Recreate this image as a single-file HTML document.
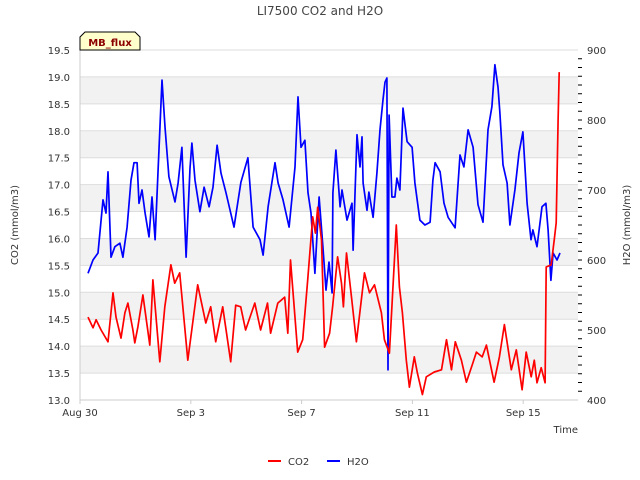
<!DOCTYPE html>
<html><head><meta charset="utf-8"><style>
body{margin:0;background:#fff;}
svg{display:block;font-family:"DejaVu Sans","Liberation Sans",sans-serif;}
</style></head><body>
<svg width="640" height="480" viewBox="0 0 640 480">
<text x="320" y="15" text-anchor="middle" font-size="12" fill="#444">LI7500 CO2 and H2O</text>
<g id="grid"></g>
<g id="axes"></g>
<g id="series"></g>
<text transform="translate(18,225) rotate(-90)" text-anchor="middle" font-size="10" fill="#333">CO2 (mmol/m3)</text>
<text transform="translate(630,225) rotate(-90)" text-anchor="middle" font-size="10" fill="#333">H2O (mmol/m3)</text>
<text x="578" y="433" text-anchor="end" font-size="10" fill="#333">Time</text>
<g>
<path d="M80,50 L80,37 L85,32 L135,32 L140,37 L140,50 Z" fill="#ffffcc" stroke="#000" stroke-width="1"/>
<text x="110" y="46" text-anchor="middle" font-size="10" font-weight="bold" fill="#8b0000">MB_flux</text>
</g>
<g>
<g><line x1="268" y1="461" x2="281" y2="461" stroke="#f00" stroke-width="2"/><text x="288" y="465" font-size="10" fill="#333">CO2</text></g>
<g><line x1="327" y1="461" x2="340" y2="461" stroke="#00f" stroke-width="2"/><text x="347" y="465" font-size="10" fill="#333">H2O</text></g>
</g>
</svg>
<script>
const xTickLabels=["Aug 30","Sep 3","Sep 7","Sep 11","Sep 15"];
const xTickDays=[0,4,8,12,16];
const leftTicks=[13.0,13.5,14.0,14.5,15.0,15.5,16.0,16.5,17.0,17.5,18.0,18.5,19.0,19.5];
const rightTicks=[400,500,600,700,800,900];
const co2Days=[0.29,0.47,0.58,0.76,1.01,1.19,1.30,1.48,1.62,1.73,1.91,1.98,2.09,2.27,2.52,2.63,2.88,3.06,3.28,3.42,3.60,3.89,4.25,4.54,4.72,4.90,5.15,5.44,5.62,5.80,5.98,6.31,6.52,6.77,6.88,7.14,7.39,7.50,7.60,7.86,8.04,8.22,8.40,8.50,8.58,8.72,8.83,9.01,9.12,9.30,9.44,9.51,9.62,9.80,9.98,10.27,10.45,10.63,10.88,10.99,11.17,11.42,11.53,11.64,11.78,11.89,12.07,12.18,12.36,12.50,12.79,13.05,13.23,13.41,13.55,13.77,13.95,14.16,14.31,14.52,14.67,14.95,15.14,15.32,15.57,15.75,15.96,16.11,16.29,16.40,16.50,16.65,16.79,16.83,17.01,17.12,17.19,17.26,17.30];
const co2Values=[14.54,14.34,14.49,14.30,14.08,14.99,14.54,14.15,14.62,14.80,14.30,14.06,14.36,14.95,14.02,15.23,13.71,14.73,15.51,15.17,15.36,13.74,15.14,14.43,14.73,14.08,14.73,13.71,14.76,14.73,14.30,14.80,14.30,14.80,14.24,14.80,14.91,14.24,15.60,13.89,14.12,15.23,16.40,16.10,16.58,15.97,13.98,14.24,14.73,15.66,15.17,14.73,15.73,14.91,14.08,15.36,14.99,15.14,14.62,14.12,13.87,16.25,15.10,14.62,13.74,13.24,13.80,13.50,13.10,13.43,13.52,13.56,14.12,13.56,14.08,13.74,13.33,13.65,13.89,13.80,14.02,13.33,13.80,14.40,13.56,13.93,13.19,13.89,13.43,13.74,13.32,13.60,13.32,15.47,15.51,15.97,16.29,18.20,19.09];
const h2oDays=[0.29,0.47,0.65,0.83,0.94,1.01,1.12,1.26,1.44,1.55,1.70,1.84,1.95,2.06,2.13,2.24,2.35,2.49,2.60,2.71,2.82,2.96,3.07,3.21,3.43,3.54,3.68,3.83,3.97,4.04,4.15,4.33,4.48,4.66,4.80,4.95,5.09,5.27,5.56,5.81,6.06,6.25,6.50,6.61,6.79,7.04,7.15,7.33,7.55,7.76,7.87,7.98,8.12,8.23,8.34,8.48,8.63,8.77,8.88,8.99,9.10,9.13,9.24,9.39,9.46,9.64,9.82,9.86,10.00,10.11,10.18,10.22,10.36,10.43,10.58,10.72,10.83,10.94,11.01,11.08,11.12,11.16,11.26,11.37,11.44,11.55,11.66,11.81,11.99,12.09,12.27,12.45,12.64,12.74,12.82,13.00,13.14,13.29,13.54,13.72,13.86,14.01,14.19,14.37,14.55,14.73,14.87,14.98,15.09,15.16,15.27,15.42,15.52,15.70,15.85,15.99,16.14,16.28,16.35,16.50,16.68,16.82,16.90,17.00,17.08,17.22,17.33];
const h2oValues=[581,600,610,686,667,726,604,619,624,604,647,714,739,739,681,700,667,633,690,629,729,857,790,719,683,710,761,604,731,767,714,669,704,676,704,764,724,696,647,711,746,647,629,607,676,739,710,686,647,733,833,761,771,696,667,581,690,619,557,597,553,696,757,676,700,657,681,614,779,733,776,710,671,697,661,724,786,829,854,860,443,807,690,690,717,700,817,769,761,710,657,650,654,714,739,726,681,661,646,750,733,786,761,679,654,786,819,879,847,810,736,710,650,700,753,783,681,629,643,619,676,681,643,571,610,600,610];

const NS="http://www.w3.org/2000/svg";
const L=80,R=578,T=50,B=400;
const xS=d=>L+d*27.7;
const yL=v=>B-(v-13)/6.5*(B-T);
const yR=v=>B-(v-400)/500*(B-T);
function mk(tag,attrs,parent){const e=document.createElementNS(NS,tag);for(const k in attrs)e.setAttribute(k,attrs[k]);parent.appendChild(e);return e;}
const grid=document.getElementById('grid'),axes=document.getElementById('axes'),series=document.getElementById('series');
for(let lo=13.5;lo<19;lo+=1){
  const r=mk('rect',{x:L,y:yL(lo+0.5),width:R-L,height:yL(lo)-yL(lo+0.5),fill:'#f2f2f2'},grid);
  
  
}
leftTicks.forEach(v=>{
  const ln=mk('line',{x1:L,x2:R,y1:yL(v),y2:yL(v),stroke:'#ddd','stroke-width':1},grid);
  
  
  const t=mk('text',{x:L-10,y:yL(v)+4,'text-anchor':'end','font-size':10,fill:'#333'},axes);
  t.textContent=v.toFixed(1);
  
  
});
mk('line',{x1:L,x2:L,y1:T,y2:B,stroke:'#ccc'},axes);
mk('line',{x1:L,x2:R,y1:B,y2:B,stroke:'#ccc'},axes);
rightTicks.forEach(v=>{
  const t=mk('text',{x:R+9,y:yR(v)+4,'font-size':10,fill:'#333'},axes);
  t.textContent=v;
  
  
});
for(let v=412.5;v<900;v+=12.5){mk('line',{x1:R,x2:R+4,y1:yR(v),y2:yR(v),stroke:'#000','stroke-width':1},axes);}
xTickDays.forEach((d,i)=>{
  mk('line',{x1:xS(d),x2:xS(d),y1:B,y2:B+4,stroke:'#ccc'},axes);
  const t=mk('text',{x:xS(d),y:B+16,'text-anchor':'middle','font-size':10,fill:'#333'},axes);
  t.textContent=xTickLabels[i];
  
  
});
function line(days,vals,ys,color,name){
  const n=Math.min(days.length,vals.length);
  let d='';for(let i=0;i<n;i++)d+=(i?'L':'M')+xS(days[i]).toFixed(1)+','+ys(vals[i]).toFixed(1);
  const p=mk('path',{d:d,fill:'none',stroke:color,'stroke-width':1.7,'stroke-linejoin':'round'},series);
  
  
}
line(h2oDays,h2oValues,yR,'#0000ff','h2o-line');
line(co2Days,co2Values,yL,'#ff0000','co2-line');
</script>
</body></html>
